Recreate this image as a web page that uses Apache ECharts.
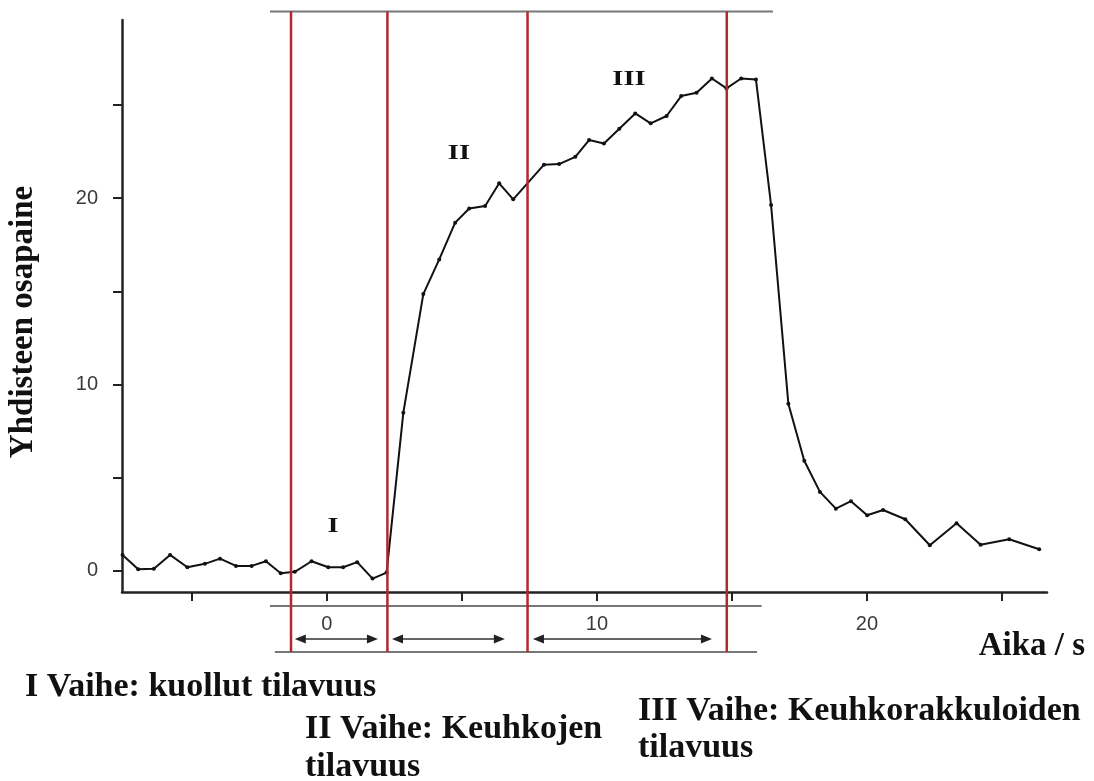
<!DOCTYPE html>
<html>
<head>
<meta charset="utf-8">
<script src="https://cdn.jsdelivr.net/npm/echarts@6/dist/echarts.min.js"></script>
<style>
    html, body { margin: 0; padding: 0; background: #fff; }
    #main { width: 1094px; height: 781px; }
</style>
</head>
<body>
<div id="main"></div>
<script>
// aika (s) ja yhdisteen osapaine
var timeS = [-7.57, -6.99, -6.41, -5.81, -5.17, -4.52, -3.96, -3.37, -2.79, -2.26, -1.71, -1.19, -0.57, 0.05, 0.6, 1.12, 1.69, 2.21,
    2.83, 3.57, 4.16, 4.75, 5.27, 5.86, 6.38, 6.9,
    8.04, 8.6, 9.2, 9.71, 10.26, 10.83, 11.42, 11.99, 12.58, 13.12, 13.69, 14.26, 14.8, 15.34, 15.89,
    16.45, 17.09, 17.68, 18.26, 18.85, 19.41, 20.01, 20.6, 21.42, 22.33, 23.32, 24.21, 25.27, 26.38];
var pressure = [0.86, 0.09, 0.12, 0.86, 0.2, 0.38, 0.66, 0.27, 0.27, 0.52, -0.12, -0.05, 0.52, 0.2, 0.2, 0.47, -0.41, -0.09,
    8.49, 14.85, 16.71, 18.68, 19.44, 19.57, 20.79, 19.93,
    21.79, 21.82, 22.21, 23.11, 22.93, 23.72, 24.54, 24.01, 24.4, 25.47, 25.65, 26.41, 25.88, 26.41, 26.36,
    19.63, 8.97, 5.91, 4.24, 3.34, 3.74, 2.99, 3.27, 2.77, 1.38, 2.56, 1.41, 1.7, 1.16];

var xTicks = [-5, 0, 5, 10, 15, 20, 25];
var xLabels = [0, 10, 20];
var yTicks = [0, 5, 10, 15, 20, 25];
var yLabels = [0, 10, 20];

// vaiheiden rajat (s) ja nuolet
var phaseBounds = [-1.33, 2.24, 7.43, 14.81];
var arrowSpans = [[-1.19, 1.89], [2.41, 6.59], [7.63, 14.26]];
var phaseNames = ['I', 'II', 'III'];

var chart = echarts.init(document.getElementById('main'));

var points = timeS.map(function (t, i) { return [t, pressure[i]]; });

chart.setOption({
    animation: false,
    grid: { left: 122, right: 47, top: 20, bottom: 189 },
    xAxis: {
        type: 'value',
        min: -7.59,
        max: 26.67,
        splitLine: { show: false },
        axisLine: { onZero: false, lineStyle: { color: '#222', width: 2.5 } },
        axisTick: { customValues: xTicks, length: 9, lineStyle: { color: '#222', width: 2 } },
        axisLabel: {
            customValues: xLabels,
            margin: 22,
            color: '#3a3a3a',
            fontSize: 20,
            fontFamily: 'Liberation Sans'
        }
    },
    yAxis: {
        type: 'value',
        min: -1.13,
        max: 29.55,
        splitLine: { show: false },
        axisLine: { show: true, onZero: false, lineStyle: { color: '#222', width: 2.5 } },
        axisTick: { show: true, customValues: yTicks, length: 9, lineStyle: { color: '#222', width: 2 } },
        axisLabel: {
            customValues: yLabels,
            margin: 24,
            color: '#3a3a3a',
            fontSize: 20,
            fontFamily: 'Liberation Sans'
        }
    },
    series: [{
        type: 'line',
        data: points,
        symbol: 'circle',
        symbolSize: 4,
        itemStyle: { color: '#111' },
        lineStyle: { color: '#111', width: 2 },
        z: 3
    }]
});

function px(x, y) {
    return chart.convertToPixel({ gridIndex: 0 }, [x, y]);
}

var gfx = [];
var serif = 'bold 34px "Liberation Serif"';

// harmaat vaakaviivat
[[-2.11, 16.52, 30], [-2.11, 16.1, -1.88], [-1.93, 15.93, -4.35]].forEach(function (h) {
    var a = px(h[0], h[2]), b = px(h[1], h[2]);
    gfx.push({ type: 'line', shape: { x1: a[0], y1: a[1], x2: b[0], y2: b[1] },
        style: { stroke: '#777', lineWidth: 2 }, z: 1 });
});

// punaiset vaiheviivat
phaseBounds.forEach(function (t) {
    var a = px(t, 30), b = px(t, -4.35);
    gfx.push({ type: 'line', shape: { x1: a[0], y1: a[1], x2: b[0], y2: b[1] },
        style: { stroke: '#b3282d', lineWidth: 2.5 }, z: 5 });
});

// kaksisuuntaiset nuolet
arrowSpans.forEach(function (s) {
    var a = px(s[0], -3.65), b = px(s[1], -3.65);
    var y = a[1];
    gfx.push({ type: 'line', shape: { x1: a[0] + 6, y1: y, x2: b[0] - 6, y2: y },
        style: { stroke: '#333', lineWidth: 1.5 }, z: 4 });
    gfx.push({ type: 'polygon', shape: { points: [[a[0], y], [a[0] + 11, y - 4.5], [a[0] + 11, y + 4.5]] },
        style: { fill: '#222' }, z: 4 });
    gfx.push({ type: 'polygon', shape: { points: [[b[0], y], [b[0] - 11, y - 4.5], [b[0] - 11, y + 4.5]] },
        style: { fill: '#222' }, z: 4 });
});

// vaiheiden numerot
[[333, 526], [459, 153], [629, 79]].forEach(function (p, i) {
    gfx.push({ type: 'text', x: p[0], y: p[1], scaleX: 1.3, z: 6,
        style: { text: phaseNames[i], font: 'bold 22px "Liberation Serif"', fill: '#111',
            textAlign: 'center', textVerticalAlign: 'middle' } });
});

// akselien nimet
gfx.push({ type: 'text', x: 23, y: 322, rotation: Math.PI / 2, z: 6,
    style: { text: 'Yhdisteen osapaine', font: 'bold 33px "Liberation Serif"', fill: '#111',
        textAlign: 'center', textVerticalAlign: 'middle' } });
gfx.push({ type: 'text', x: 1085, y: 646, z: 6,
    style: { text: 'Aika / s', font: 'bold 33px "Liberation Serif"', fill: '#111',
        textAlign: 'right', textVerticalAlign: 'middle' } });

// selitteet
[
    ['I Vaihe: kuollut tilavuus', 25, 687],
    ['II Vaihe: Keuhkojen', 305, 729],
    ['tilavuus', 305, 767],
    ['III Vaihe: Keuhkorakkuloiden', 638, 711],
    ['tilavuus', 638, 748]
].forEach(function (t) {
    gfx.push({ type: 'text', x: t[1], y: t[2], z: 6,
        style: { text: t[0], font: serif, fill: '#111', textAlign: 'left', textVerticalAlign: 'middle' } });
});

chart.setOption({ graphic: gfx });
</script>
</body>
</html>
